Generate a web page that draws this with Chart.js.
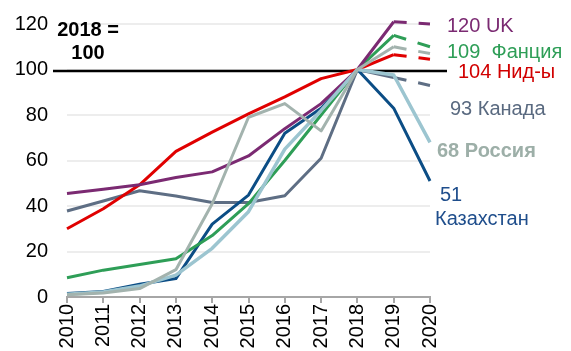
<!DOCTYPE html>
<html>
<head>
<meta charset="utf-8">
<script src="https://cdn.jsdelivr.net/npm/chart.js@4"></script>
<style>
  html, body { margin: 0; padding: 0; background: #fff; }
  #wrap { width: 571px; height: 351px; }
</style>
</head>
<body>
<div id="wrap"><canvas id="chart"></canvas></div>
<script>
const years = ['2010', '2011', '2012', '2013', '2014', '2015', '2016', '2017', '2018', '2019', '2020'];

// index, 2018 = 100
const uk          = [45.5, 47.4, 49.3, 52.5, 55, 62, 74, 85, 100, 121, 120];
const france      = [8.5, 11.8, 14.3, 16.8, 27, 41, 60, 80, 100, 115, 110];
const other       = [1, 1.8, 3.7, 12, 41, 79, 85, 73, 100, 110, 107];
const netherlands = [30, 38.8, 49.3, 64, 72.5, 80.5, 88, 96, 100, 106.5, 104.5];
const canada      = [37.8, 42.2, 46.7, 44.4, 41.5, 41.5, 44.5, 61, 100, 96.5, 93];
const russia      = [1.2, 2.2, 4.8, 9.6, 21.4, 37.5, 65, 82, 100, 97.6, 68];
const kazakhstan  = [1.5, 2.4, 5.6, 8.1, 32, 44.8, 72, 83, 100, 83, 51];

const endLabels = [
  { text: '120 UK', series: uk, color: '#7B2A72', bold: false },
  { text: '109  Фанция', series: france, color: '#2E9E57', bold: false },
  { text: '104 Нид-ы', series: netherlands, color: '#D10000', bold: false },
  { text: '93 Канада', series: canada, color: '#5A6A80', bold: false },
  { text: '68 Россия', series: russia, color: '#9DAFA8', bold: true },
  { text: '51', series: kazakhstan, color: '#1F4E8C', bold: false },
  { text: 'Казахстан', series: kazakhstan, color: '#1F4E8C', bold: false }
];
// offsets of each end label from the 2020 point
const labelOffsets = [[17, 2], [17, 6], [28, 13], [20, 24], [7, 9], [10, 15], [5, 39]];

const FONT = '"Liberation Sans", Arial, sans-serif';
const lastSeg = 9;

function line(data, color, dashedLast, width) {
  return {
    data,
    borderColor: color,
    borderWidth: width || 3,
    pointRadius: 0,
    tension: 0,
    fill: false,
    clip: false,
    borderJoinStyle: 'round',
    segment: dashedLast ? { borderDash: c => c.p0DataIndex === lastSeg ? [13, 12] : undefined } : undefined
  };
}

const refLine = {
  id: 'refLine',
  beforeDatasetsDraw(chart) {
    const { ctx, scales: { x, y } } = chart;
    const py = y.getPixelForValue(100) + 1.5;
    ctx.save();
    ctx.strokeStyle = '#000';
    ctx.lineWidth = 2.5;
    ctx.beginPath();
    ctx.moveTo(x.left - 14, py);
    ctx.lineTo(x.right + 17, py);
    ctx.stroke();
    ctx.restore();
  }
};

const textPlugin = {
  id: 'texts',
  afterDraw(chart) {
    const { ctx, scales: { x, y } } = chart;
    ctx.save();
    ctx.textBaseline = 'middle';
    ctx.textAlign = 'left';
    endLabels.forEach((l, i) => {
      const v = l.series[l.series.length - 1];
      const px = x.getPixelForValue(years.length - 1) + labelOffsets[i][0];
      const py = y.getPixelForValue(v) + labelOffsets[i][1];
      ctx.font = (l.bold ? 'bold ' : '') + '20px ' + FONT;
      ctx.fillStyle = l.color;
      ctx.fillText(l.text, px, py);
    });
    // base year note
    ctx.font = 'bold 20px ' + FONT;
    ctx.fillStyle = '#000';
    ctx.textAlign = 'center';
    ctx.fillText('2018 =', 88, 30);
    ctx.fillText('100', 88, 53);
    ctx.restore();
  }
};

new Chart(document.getElementById('chart'), {
  type: 'line',
  data: {
    labels: years,
    datasets: [
      line(other, '#A3B3AE', true),
      line(russia, '#9CC5D0', false, 3.5),
      line(uk, '#7B2A72', true),
      line(netherlands, '#E00000', true),
      line(france, '#2E9E57', true),
      line(kazakhstan, '#0B4D85', false),
      line(canada, '#5E6E84', true)
    ]
  },
  options: {
    responsive: true,
    maintainAspectRatio: false,
    animation: false,
    layout: { padding: { top: 24, right: 141, left: 0, bottom: 0 } },
    plugins: { legend: { display: false }, tooltip: { enabled: false } },
    scales: {
      x: {
        offset: false,
        grid: { display: true, drawOnChartArea: false, drawTicks: true, tickLength: 6, color: '#A6A6A6', lineWidth: 2 },
        border: { display: true, color: '#A6A6A6', width: 2 },
        ticks: {
          color: '#000',
          font: { size: 20, family: FONT },
          minRotation: 90,
          maxRotation: 90,
          autoSkip: false,
          padding: 1
        },
        afterFit(s) { s.height = 54; s.paddingLeft = 0; s.paddingRight = 0; }
      },
      y: {
        min: 0,
        max: 120,
        grid: { color: '#EDEDED', lineWidth: 2, drawTicks: false },
        border: { display: false },
        ticks: {
          stepSize: 20,
          color: '#000',
          font: { size: 20, family: FONT },
          padding: 19
        },
        afterFit(s) { s.width = 67; s.paddingTop = 0; s.paddingBottom = 0; }
      }
    }
  },
  plugins: [refLine, textPlugin]
});
</script>
</body>
</html>
